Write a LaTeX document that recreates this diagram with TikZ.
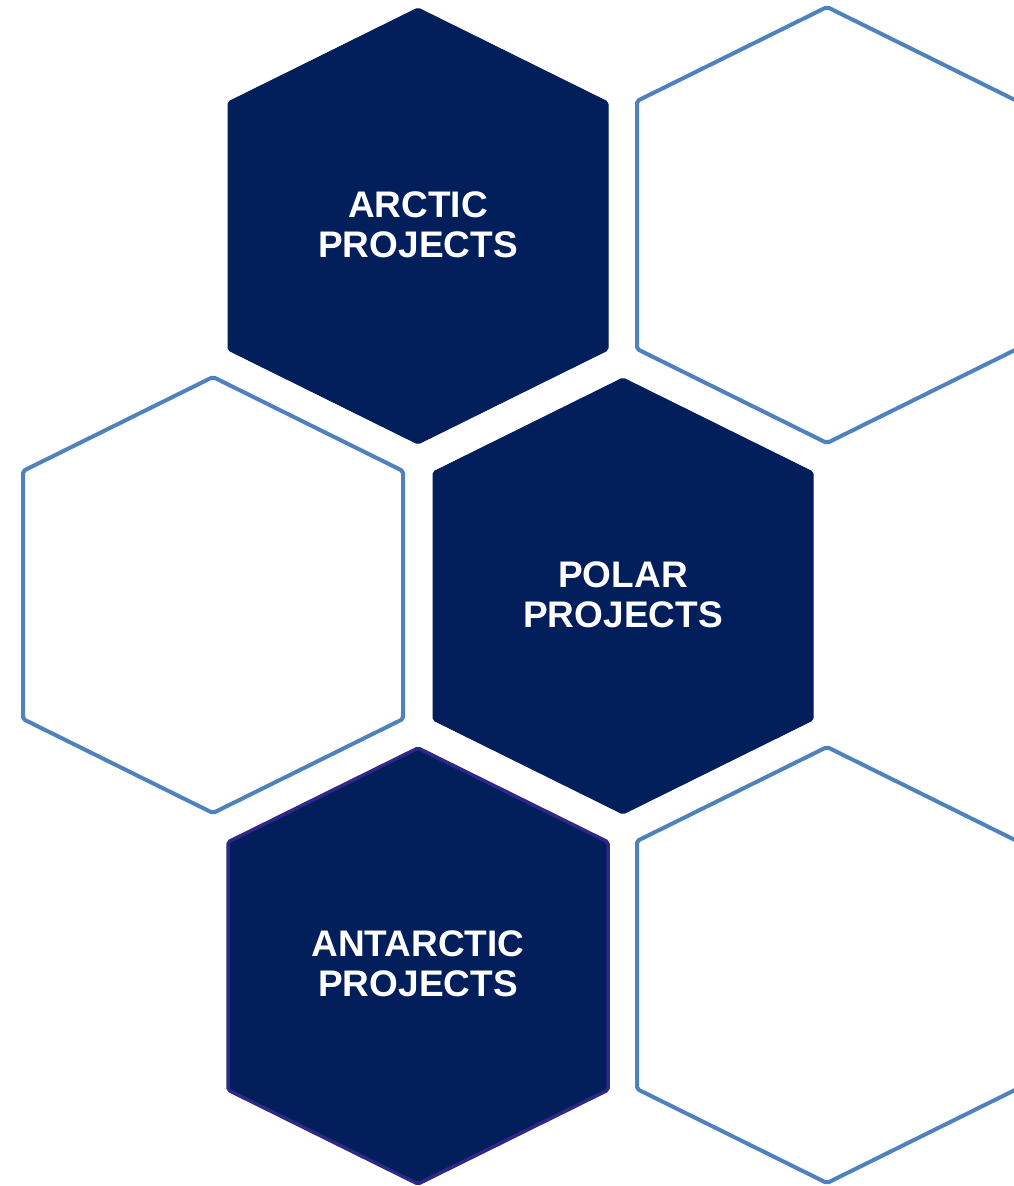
\documentclass[tikz,border=0pt]{standalone}
\usepackage{fontspec}
\setmainfont{Liberation Sans}
\usepackage{tikz}
\usetikzlibrary{positioning}
\definecolor{polarnavy}{RGB}{2,31,92}
\definecolor{cellblue}{RGB}{79,129,189}
\definecolor{southpurple}{RGB}{46,40,134}
\tikzstyle{hexfill} = [fill=polarnavy, draw=polarnavy, line width=1pt, rounded corners=2pt]
\tikzstyle{hexsouth} = [fill=polarnavy, draw=southpurple, line width=3.5pt, rounded corners=2pt]
\tikzstyle{hexline} = [draw=cellblue, line width=4pt, rounded corners=2pt]
\tikzstyle{hextext} = [text=white, align=center, font=\fontsize{37}{40}\selectfont\bfseries]

\begin{document}
\begin{tikzpicture}[x=1pt, y=-1pt]
            \useasboundingbox (0,0) rectangle (1014,1186);
            \clip (0,0) rectangle (1014,1186);
            % honeycomb cells
            \foreach \cx/\cy/\kind in {418/226/hexfill, 827/225/hexline, 213/595/hexline,
                                      623/596/hexfill, 418/966/hexsouth, 827/965/hexline}
              \draw[\kind] (\cx,\cy) ++(0,-218) -- ++(190,94) -- ++(0,248) -- ++(-190,94)
                  -- ++(-190,-94) -- ++(0,-248) -- cycle;
            % labels
            \node (arctic) [hextext] at (418,225) {ARCTIC\\PROJECTS};
            \node (polar) [hextext] at (623,595) {POLAR\\PROJECTS};
            \node (antarctic) [hextext] at (418,964) {ANTARCTIC\\PROJECTS};
\end{tikzpicture}
\end{document}
